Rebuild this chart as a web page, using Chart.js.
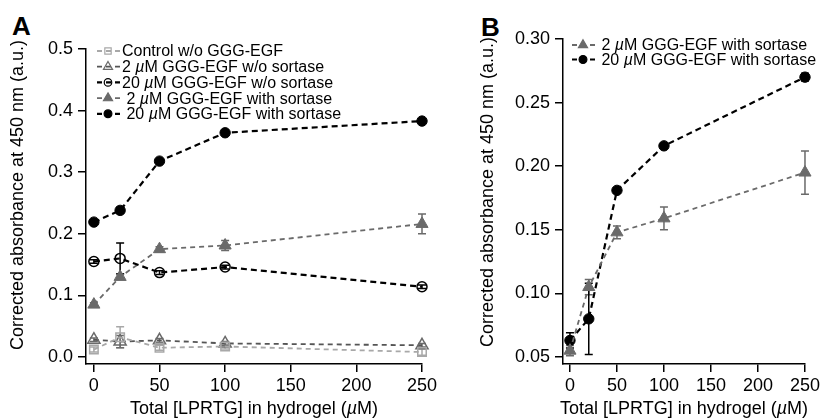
<!DOCTYPE html>
<html>
<head>
<meta charset="utf-8"/>
<title>Corrected absorbance vs LPRTG</title>
<script src="https://cdn.jsdelivr.net/npm/chart.js"></script>
<style>
  body { margin: 0; width: 823px; height: 418px; background: #fff; position: relative; overflow: hidden;
         font-family: "Liberation Sans", Arial, sans-serif; }
  .panel { position: absolute; top: 0; height: 418px; }
  .tag { position: absolute; font-weight: bold; font-size: 26px; line-height: 1; }
</style>
</head>
<body>
<div class="tag" style="left:12px;top:13px">A</div>
<div class="tag" style="left:481px;top:14px">B</div>
<div class="panel" style="left:0;width:450px"><canvas id="chartA"></canvas></div>
<div class="panel" style="left:470px;width:353px"><canvas id="chartB"></canvas></div>

<script type="text/javascript">
// x positions shared by every series
const xValues = [0, 20, 50, 100, 250];
const xTicks = [0, 50, 100, 150, 200, 250];

// Panel A
const ctrlA = [0.012, 0.032, 0.015, 0.017, 0.008];
const ctrlErrA = [0.004, 0.017, 0.004, 0.004, 0.005];
const egf2NoSortA = [0.028, 0.025, 0.027, 0.022, 0.019];
const egf2NoSortErrA = [0.003, 0.010, 0.003, 0.003, 0.003];
const egf20NoSortA = [0.155, 0.160, 0.137, 0.146, 0.114];
const egf20NoSortErrA = [0.003, 0.025, 0.003, 0.003, 0.003];
const egf2SortA = [0.085, 0.130, 0.175, 0.181, 0.216];
const egf2SortErrA = [0.003, 0.004, 0.004, 0.008, 0.016];
const egf20SortA = [0.219, 0.238, 0.318, 0.364, 0.383];
const egf20SortErrA = [0.002, 0.005, 0.003, 0.002, 0.002];
const yTicksA = [0, 0.1, 0.2, 0.3, 0.4, 0.5];

// Panel B
const egf2SortB = [0.055, 0.105, 0.148, 0.159, 0.195];
const egf2SortErrB = [0.004, 0.006, 0.005, 0.009, 0.017];
const egf20SortB = [0.063, 0.080, 0.181, 0.216, 0.270];
const egf20SortErrB = [0.006, 0.028, 0.002, 0.002, 0.003];
const yTicksB = [0.05, 0.10, 0.15, 0.20, 0.25, 0.30];

const labels = {
  ctrl: 'Control w/o GGG-EGF',
  egf2NoSort: '2 µM GGG-EGF w/o sortase',
  egf20NoSort: '20 µM GGG-EGF w/o sortase',
  egf2Sort: ' 2 µM GGG-EGF with sortase',
  egf20Sort: ' 20 µM GGG-EGF with sortase'
};
const xTitle = 'Total [LPRTG] in hydrogel (µM)';
const yTitle = 'Corrected absorbance at 450 nm (a.u.)';

const FONT = '"Liberation Sans", Arial, sans-serif';

function series(label, ys, errs, color, shape, filled, radius, lineColor, lineWidth, dash) {
  return {
    label: label,
    data: xValues.map((x, i) => ({ x: x, y: ys[i] })),
    errors: errs,
    borderColor: lineColor,
    borderWidth: lineWidth,
    borderDash: dash,
    markerColor: color,
    pointStyle: shape,
    pointRadius: radius,
    pointHoverRadius: radius,
    pointBorderColor: color,
    pointBackgroundColor: filled ? color : 'rgba(0,0,0,0)',
    pointBorderWidth: filled ? 1 : 1.5,
    showLine: true,
    tension: 0,
    fill: false,
    clip: false
  };
}

// text with an italic µ
function richText(ctx, text, x, y, size, align) {
  const parts = text.split('µ');
  const normal = size + 'px ' + FONT;
  const italic = 'italic ' + size + 'px ' + FONT;
  let total = 0;
  parts.forEach((p, i) => {
    ctx.font = normal; total += ctx.measureText(p).width;
    if (i < parts.length - 1) { ctx.font = italic; total += ctx.measureText('µ').width; }
  });
  let cx = align === 'center' ? x - total / 2 : x;
  ctx.textAlign = 'left';
  parts.forEach((p, i) => {
    ctx.font = normal; ctx.fillText(p, cx, y); cx += ctx.measureText(p).width;
    if (i < parts.length - 1) {
      ctx.font = italic; ctx.fillText('µ', cx, y); cx += ctx.measureText('µ').width;
    }
  });
}

function panelPlugin(cfg) {
  return {
    id: 'panelDeco',
    beforeDatasetsDraw(chart) {
      const ctx = chart.ctx;
      const ys = chart.scales.y;
      ctx.save();
      chart.data.datasets.forEach((ds, di) => {
        const meta = chart.getDatasetMeta(di);
        ctx.strokeStyle = ds.markerColor;
        ctx.lineWidth = 1.5;
        ctx.setLineDash([]);
        meta.data.forEach((pt, i) => {
          const e = ds.errors[i];
          const top = ys.getPixelForValue(ds.data[i].y + e);
          const bot = ys.getPixelForValue(ds.data[i].y - e);
          ctx.beginPath();
          ctx.moveTo(pt.x, top); ctx.lineTo(pt.x, bot);
          ctx.moveTo(pt.x - 4, top); ctx.lineTo(pt.x + 4, top);
          ctx.moveTo(pt.x - 4, bot); ctx.lineTo(pt.x + 4, bot);
          ctx.stroke();
        });
      });
      ctx.restore();
    },
    afterDraw(chart) {
      const ctx = chart.ctx;
      const area = chart.chartArea;
      ctx.save();
      ctx.fillStyle = '#000';
      ctx.textBaseline = 'middle';
      // legend
      chart.data.datasets.forEach((ds, i) => {
        const y = area.top + cfg.legendTop + i * cfg.legendGap;
        const x0 = area.left + cfg.legendLeft;
        ctx.strokeStyle = ds.borderColor;
        ctx.lineWidth = ds.borderWidth;
        ctx.setLineDash([5, 4]);
        ctx.beginPath(); ctx.moveTo(x0, y); ctx.lineTo(x0 + 23, y); ctx.stroke();
        ctx.setLineDash([]);
        ctx.strokeStyle = ds.markerColor;
        ctx.fillStyle = ds.pointBackgroundColor;
        ctx.lineWidth = 1.2;
        Chart.helpers.drawPoint(ctx, { pointStyle: ds.pointStyle, radius: ds.pointRadius * 0.75, rotation: 0, borderWidth: 1.2 }, x0 + 11, y);
        ctx.fillStyle = '#000';
        richText(ctx, ds.label, x0 + 25, y + 1, 16, 'left');
      });
      // axis titles
      ctx.fillStyle = '#000';
      richText(ctx, xTitle, (area.left + area.right) / 2, area.bottom + 45, 18, 'center');
      ctx.translate(area.left + cfg.yTitleDx, area.top + cfg.yTitleDy);
      ctx.rotate(-Math.PI / 2);
      ctx.font = '18px ' + FONT;
      ctx.textAlign = 'center';
      ctx.fillText(yTitle, 0, 0);
      ctx.restore();
    }
  };
}

function scales(xMin, yMin, yMax, yTicks, digits, yWidth) {
  const axisFont = { family: FONT, size: 18 };
  return {
    x: {
      type: 'linear', min: xMin, max: 250,
      afterBuildTicks: s => { s.ticks = xTicks.map(v => ({ value: v })); },
      afterFit: s => { s.height = 54; },
      grid: { drawOnChartArea: false, drawTicks: true, tickLength: 8, color: '#000', lineWidth: 1.5 },
      border: { display: true, color: '#000', width: 1.5 },
      ticks: { color: '#000', font: axisFont, padding: 3, maxRotation: 0, autoSkip: false }
    },
    y: {
      type: 'linear', min: yMin, max: yMax,
      afterBuildTicks: s => { s.ticks = yTicks.map(v => ({ value: v })); },
      afterFit: s => { s.width = yWidth; },
      grid: { drawOnChartArea: false, drawTicks: true, tickLength: 8, color: '#000', lineWidth: 1.5 },
      border: { display: true, color: '#000', width: 1.5 },
      ticks: { color: '#000', font: axisFont, padding: 5, autoSkip: false,
               callback: v => Number(v).toFixed(digits) }
    }
  };
}

const commonOpts = {
  responsive: true,
  maintainAspectRatio: false,
  animation: false,
  plugins: { legend: { display: false }, tooltip: { enabled: false } }
};

const black = '#000000';
const darkGray = '#6a6a6a';
const midGray = '#555555';
const lightGray = '#a8a8a8';

new Chart(document.getElementById('chartA').getContext('2d'), {
  type: 'line',
  data: {
    datasets: [
      series(labels.ctrl, ctrlA, ctrlErrA, lightGray, 'rect', false, 6, lightGray, 1.8, [5, 4]),
      series(labels.egf2NoSort, egf2NoSortA, egf2NoSortErrA, darkGray, 'triangle', false, 7, midGray, 1.8, [5, 4]),
      series(labels.egf20NoSort, egf20NoSortA, egf20NoSortErrA, black, 'circle', false, 5, black, 2.2, [6, 4]),
      series(labels.egf2Sort, egf2SortA, egf2SortErrA, darkGray, 'triangle', true, 7, darkGray, 1.8, [5, 4]),
      series(labels.egf20Sort, egf20SortA, egf20SortErrA, black, 'circle', true, 5.2, black, 2.2, [6, 4])
    ]
  },
  options: Object.assign({}, commonOpts, {
    layout: { padding: { left: 0, top: 49, right: 28, bottom: 0 } },
    scales: scales(-6, -0.0114, 0.5, yTicksA, 1, 86)
  }),
  plugins: [panelPlugin({ legendLeft: 11, legendTop: 2, legendGap: 15.7, yTitleDx: -68, yTitleDy: 146 })]
});

new Chart(document.getElementById('chartB').getContext('2d'), {
  type: 'line',
  data: {
    datasets: [
      series(labels.egf2Sort, egf2SortB, egf2SortErrB, darkGray, 'triangle', true, 7, darkGray, 1.8, [5, 4]),
      series(labels.egf20Sort, egf20SortB, egf20SortErrB, black, 'circle', true, 5.2, black, 2.2, [6, 4])
    ]
  },
  options: Object.assign({}, commonOpts, {
    layout: { padding: { left: 0, top: 39, right: 16, bottom: 0 } },
    scales: scales(-7.4, 0.0445, 0.30, yTicksB, 2, 93)
  }),
  plugins: [panelPlugin({ legendLeft: 9, legendTop: 6, legendGap: 14.5, yTitleDx: -75, yTitleDy: 153 })]
});
</script>
</body>
</html>
